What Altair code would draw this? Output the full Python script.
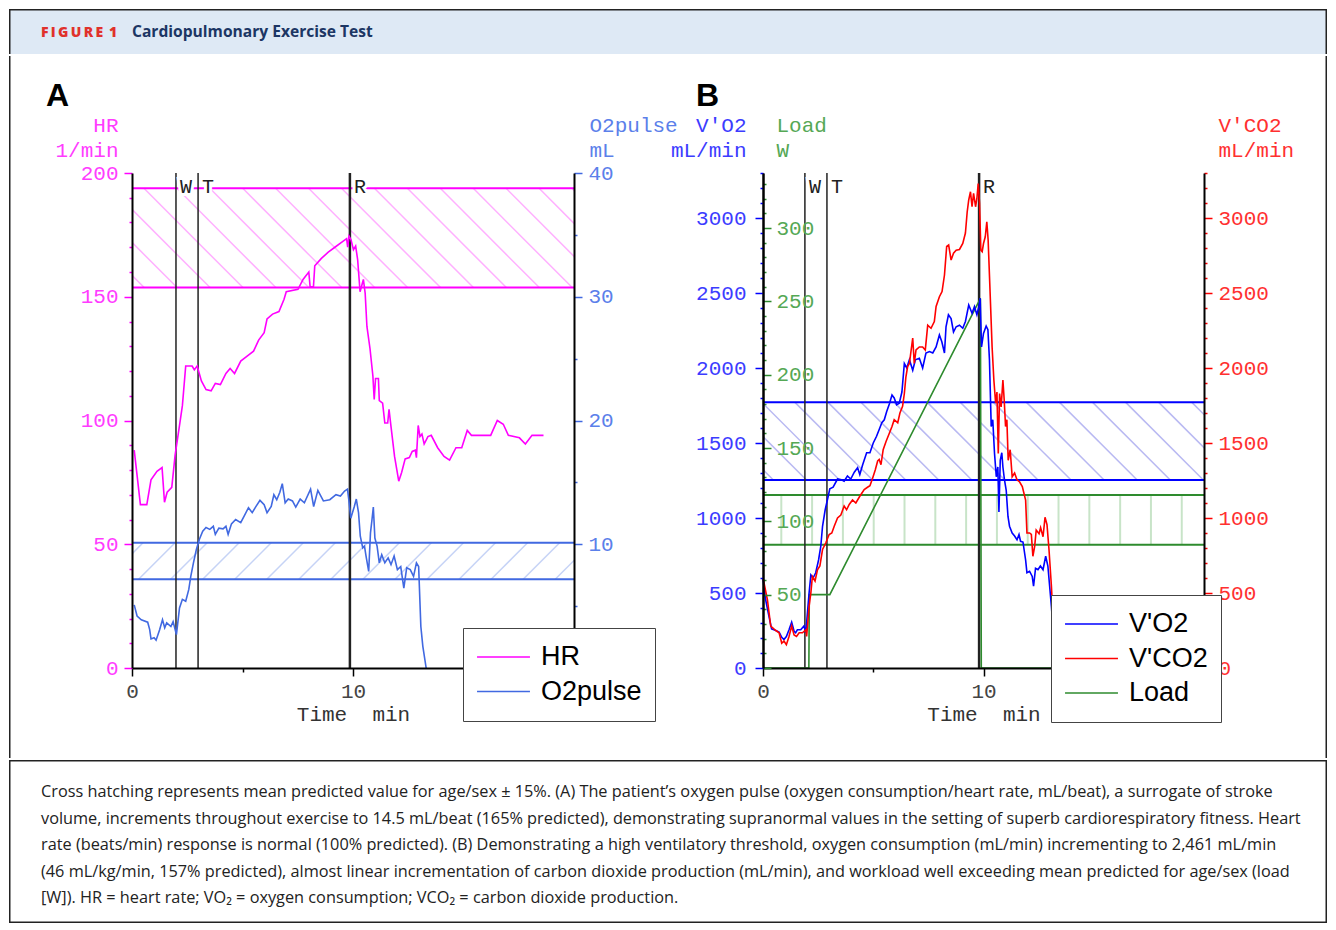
import altair as alt
import pandas as pd

# ---------------- data ----------------
HR_T = [0.10, 0.38, 0.67, 0.86, 1.13, 1.36, 1.47, 1.59, 1.80, 1.95,
        2.15, 2.28, 2.43, 2.72, 2.82, 2.95, 3.14, 3.35, 3.58, 3.77,
        4.00, 4.25, 4.44, 4.64, 4.92, 5.21, 5.50, 5.73, 5.98, 6.11,
        6.36, 6.65, 6.88, 6.98, 7.51, 7.74, 8.00, 8.06, 8.21, 8.27,
        8.57, 8.88, 9.18, 9.48, 9.71, 9.76, 9.82, 9.91, 10.02, 10.12,
        10.21, 10.32, 10.47, 10.55, 10.63, 10.77, 10.90, 10.96, 11.02, 11.15,
        11.19, 11.34, 11.44, 11.57, 11.63, 11.72, 11.88, 12.07, 12.20, 12.36,
        12.55, 12.68, 12.82, 12.87, 12.95, 13.03, 13.12, 13.22, 13.39, 13.54,
        13.83, 14.12, 14.37, 14.66, 14.92, 15.17, 15.36, 16.23, 16.53, 16.80,
        17.03, 17.53, 17.80, 18.10, 18.62]
HR_V = [88, 66, 66, 76, 79.5, 81, 67, 71, 73, 86,
        98, 106, 122, 122, 120.5, 122, 116, 112.5, 112, 115,
        114.5, 119, 121, 119, 124, 126, 128, 132.5, 135.5, 141,
        143, 144, 149, 152, 153, 157, 160, 154, 154, 162.5,
        165.5, 168, 170, 172, 173.5, 170, 174.5, 173, 169, 170.5,
        165, 152, 157, 151.5, 138, 129, 118, 108.5, 117, 117,
        108, 107, 99, 99, 104.5, 97.5, 85.5, 75.5, 79, 84.5,
        85, 87.5, 88, 85, 98, 93.5, 94.5, 90.5, 93.5, 94,
        89, 85.5, 84, 89, 89, 96, 94, 94, 100, 98.5,
        94, 93, 90.5, 94, 94]

O2_T = [0.10, 0.23, 0.42, 0.71, 0.80, 0.86, 1.00, 1.09, 1.25, 1.38,
        1.48, 1.57, 1.76, 1.86, 2.01, 2.15, 2.28, 2.43, 2.57, 2.66,
        2.78, 2.91, 3.05, 3.20, 3.35, 3.52, 3.68, 3.77, 3.93, 4.12,
        4.25, 4.35, 4.50, 4.69, 4.92, 5.08, 5.27, 5.44, 5.59, 5.79,
        5.98, 6.11, 6.30, 6.42, 6.55, 6.69, 6.80, 6.93, 7.07, 7.26,
        7.41, 7.61, 7.80, 8.08, 8.22, 8.41, 8.66, 8.95, 9.23, 9.43,
        9.62, 9.75, 9.81, 9.90, 10.06, 10.15, 10.25, 10.33, 10.44, 10.52,
        10.59, 10.71, 10.79, 10.86, 10.92, 10.99, 11.09, 11.19, 11.30, 11.44,
        11.59, 11.72, 11.86, 12.01, 12.16, 12.30, 12.43, 12.59, 12.74, 12.87,
        12.97, 13.07, 13.16, 13.31]
O2_V = [5.1, 4.2, 3.9, 3.7, 3.1, 2.35, 2.45, 2.25, 3.1, 3.9,
        3.25, 3.65, 3.35, 3.75, 2.7, 4.85, 5.55, 5.4, 6.35, 7.4,
        8.5, 9.55, 10.4, 11.05, 11.35, 11.2, 11.45, 10.8, 11.3, 11.25,
        11.45, 10.8, 11.65, 12.0, 11.75, 12.3, 12.95, 12.55, 13.0, 13.55,
        13.2, 12.55, 13.05, 14.0, 13.6, 14.2, 14.9, 13.35, 13.65, 13.5,
        13.0, 13.65, 13.35, 14.45, 13.05, 14.35, 13.5, 13.6, 14.0, 13.9,
        14.3, 14.45, 13.6, 12.1, 13.05, 13.65, 12.55, 10.65, 9.7, 9.85,
        9.05, 7.8, 10.9, 12.0, 13.0, 10.5, 9.85, 8.5, 9.15, 8.5,
        8.9, 8.35, 9.05, 7.95, 8.2, 6.45, 8.1, 7.95, 7.4, 8.5,
        8.2, 3.35, 1.75, 0]

VO2_T = [0.00, 0.12, 0.27, 0.39, 0.58, 0.73, 0.85, 0.95, 1.06, 1.18,
         1.30, 1.41, 1.48, 1.56, 1.71, 1.86, 1.94, 2.09, 2.17, 2.27,
         2.39, 2.52, 2.62, 2.70, 2.82, 2.92, 3.03, 3.18, 3.38, 3.56,
         3.68, 3.83, 3.98, 4.14, 4.29, 4.39, 4.52, 4.70, 4.85, 5.00,
         5.15, 5.27, 5.39, 5.50, 5.61, 5.73, 5.85, 5.95, 6.06, 6.18,
         6.30, 6.41, 6.52, 6.64, 6.79, 6.91, 7.09, 7.24, 7.39, 7.55,
         7.70, 7.85, 8.00, 8.11, 8.23, 8.30, 8.41, 8.53, 8.64, 8.76,
         8.91, 9.06, 9.18, 9.33, 9.48, 9.59, 9.70, 9.79, 9.85, 9.91,
         10.00, 10.12, 10.20, 10.27, 10.35, 10.42, 10.50, 10.58, 10.65, 10.70,
         10.76, 10.83, 10.88, 10.95, 11.03, 11.11, 11.18, 11.30, 11.41, 11.52,
         11.61, 11.68, 11.79, 11.91, 11.97, 12.09, 12.21, 12.27, 12.36, 12.47,
         12.58, 12.70, 12.82, 12.92, 13.08, 13.23, 13.30]
VO2_V = [590, 455, 345, 260, 250, 240, 205, 190, 210, 255,
         305, 245, 235, 255, 255, 280, 235, 500, 620, 600,
         635, 720, 810, 945, 1055, 1120, 1195, 1205, 1260, 1255,
         1245, 1280, 1260, 1305, 1335, 1290, 1355, 1435, 1435, 1500,
         1545, 1590, 1635, 1655, 1710, 1760, 1820, 1800, 1755, 1765,
         1840, 2030, 2000, 2055, 1985, 2055, 2065, 2000, 2100, 2110,
         2100, 2140, 2220, 2175, 2100, 2275, 2355, 2330, 2240, 2275,
         2285, 2265, 2310, 2420, 2365, 2410, 2355, 2410, 2465, 2140,
         2230, 2280, 2255, 2055, 1610, 1655, 1430, 1275, 1340, 1040,
         1385, 1435, 1340, 1255, 1185, 1010, 945, 900, 880, 855,
         890, 845, 840, 720, 635, 645, 610, 545, 665, 655,
         680, 655, 745, 680, 410, 100, 0]

VCO2_T = [0.00, 0.20, 0.35, 0.58, 0.73, 0.85, 0.95, 1.06, 1.18, 1.30,
          1.41, 1.52, 1.64, 1.79, 1.94, 1.98, 2.09, 2.17, 2.24, 2.36,
          2.47, 2.58, 2.70, 2.85, 3.00, 3.12, 3.23, 3.38, 3.53, 3.68,
          3.79, 3.91, 4.06, 4.21, 4.39, 4.59, 4.74, 4.85, 4.97, 5.09,
          5.20, 5.27, 5.35, 5.45, 5.58, 5.73, 5.85, 5.95, 6.11, 6.21,
          6.33, 6.41, 6.48, 6.56, 6.64, 6.71, 6.79, 6.86, 6.94, 7.09,
          7.24, 7.36, 7.47, 7.62, 7.77, 7.85, 8.00, 8.12, 8.23, 8.33,
          8.42, 8.53, 8.64, 8.76, 8.91, 9.06, 9.18, 9.26, 9.33, 9.41,
          9.48, 9.55, 9.64, 9.70, 9.76, 9.82, 9.88, 9.94, 10.00, 10.08,
          10.15, 10.21, 10.30, 10.39, 10.47, 10.55, 10.61, 10.67, 10.73, 10.80,
          10.88, 10.94, 11.00, 11.06, 11.12, 11.21, 11.30, 11.41, 11.52, 11.64,
          11.76, 11.91, 11.97, 12.09, 12.17, 12.24, 12.32, 12.39, 12.52, 12.59,
          12.70, 12.79, 12.88, 12.97, 13.08, 13.15, 13.30]
VCO2_V = [600, 455, 280, 250, 235, 165, 180, 155, 210, 280,
          220, 210, 235, 235, 255, 210, 410, 500, 610, 580,
          655, 680, 790, 835, 890, 900, 945, 1000, 1020, 1080,
          1055, 1090, 1120, 1100, 1145, 1190, 1205, 1215, 1265, 1320,
          1380, 1390, 1355, 1455, 1510, 1565, 1610, 1655, 1635, 1700,
          1745, 1830, 1940, 2010, 2030, 2110, 2200, 2030, 2120, 2140,
          2140, 2120, 2285, 2265, 2310, 2410, 2475, 2510, 2620, 2810,
          2820, 2720, 2765, 2785, 2790, 2830, 2900, 3040, 3120, 3175,
          3075, 3165, 3075, 3130, 3230, 3100, 2785, 2775, 2830, 2875,
          2975, 2855, 2500, 2140, 1920, 1765, 1840, 1430, 1830, 1740,
          1920, 1785, 1610, 1655, 1385, 1455, 1275, 1300, 1255, 1240,
          1210, 1120, 900, 900, 890, 745, 810, 920, 895, 935,
          875, 1005, 955, 790, 545, 345, 0]

LOAD_T = [0.0, 2.08, 2.10, 3.03, 9.86, 9.90, 13.30]
LOAD_V = [0, 0, 50, 50, 252, 0, 0]

MARKER_LABELS = ["W", "T", "R"]
MARKERS_A_T = [1.99, 2.99, 9.86]
MARKERS_B_T = [1.90, 2.90, 9.80]

HR_BAND = [153.7, 193.8]
O2_BAND = [7.17, 10.12]
VO2_BAND = [1253, 1771]
LOAD_BAND = [84, 118]

SERIES_A = ["HR", "O2pulse"]
SERIES_B = ["V'O2", "V'CO2", "Load"]

X_TICKS = [0, 5, 10, 15, 20]
HR_TICKS = list(range(0, 201, 10))
O2_TICKS = list(range(0, 41, 5))
VO2_TICKS = list(range(0, 3301, 100))
LOAD_TICKS = list(range(0, 331, 10))

HEADER_LABEL = "F\u2009I\u2009G\u2009U\u2009R\u2009E\u2009 1"
HEADER_TITLE = "Cardiopulmonary Exercise Test"
CAPTION_LINES = [
    "Cross hatching represents mean predicted value for age/sex \u00b1 15%. (A) The patient\u2019s oxygen pulse (oxygen consumption/heart rate, mL/beat), a surrogate of stroke",
    "volume, increments throughout exercise to 14.5 mL/beat (165% predicted), demonstrating supranormal values in the setting of superb cardiorespiratory fitness. Heart",
    "rate (beats/min) response is normal (100% predicted). (B) Demonstrating a high ventilatory threshold, oxygen consumption (mL/min) incrementing to 2,461 mL/min",
    "(46 mL/kg/min, 157% predicted), almost linear incrementation of carbon dioxide production (mL/min), and workload well exceeding mean predicted for age/sex (load",
    "[W]). HR = heart rate; VO\u2082 = oxygen consumption; VCO\u2082 = carbon dioxide production.",
]

# ---------------- styling ----------------
MONO = "Liberation Mono"
SANS = "Liberation Sans"
CAP_FONT = "Open Sans"
FRAME = "#222222"
HEADER_BG = "#dee9f5"
LEFT = 123            # distance from the frame to panel A's plot area
TOTAL_W = 1318
HEADER_H = 45
CAPTION_H = 163
MID_TOP, MID_BOTTOM = -117, 585
PW_A, PW_B, PH = 442, 441, 495
GAP = 189
T_DOMAIN = [0, 20]
HR_DOM = [0, 200]
O2_DOM = [0, 40]
VO2_DOM = [0, 3300]
LOAD_DOM = [0, 337.5]

MAG = "#ff00ff"
RB = "#4169e1"
BLUE = "#0000ff"
RED = "#ff0000"
GREEN = "#2e8b2e"

one = pd.DataFrame({"k": [0]})


def series_df(ts, vs, name):
    return pd.DataFrame({"t": ts, "v": vs, "series": name})


def xs(axis=None):
    return alt.X("t:Q", scale=alt.Scale(domain=T_DOMAIN, nice=False, zero=False), axis=axis)


def ys(domain, axis=None):
    return alt.Y("v:Q", scale=alt.Scale(domain=domain, nice=False, zero=False), axis=axis)


def tick_size(major, big=8, small=3):
    return {"condition": {"test": f"datum.value % {major} === 0", "value": big}, "value": small}


def y_axis(orient, values, major, tick_color, text_color, title, title_align, title_x,
           label_padding, offset=0, hide_zero=False):
    cond = f"datum.value % {major} === 0" + (" && datum.value > 0" if hide_zero else "")
    kw = dict(orient=orient, values=values, format="d", labelExpr=f"{cond} ? datum.label : ''",
              tickSize=tick_size(major), tickColor=tick_color, tickWidth=1.5,
              domainColor="black", domainWidth=2, labelColor=text_color, labelFont=MONO,
              labelFontSize=21, labelPadding=label_padding, labelFlush=False, labelOverlap=False,
              grid=False, title=title, titleAngle=0, titleAlign=title_align,
              titleBaseline="alphabetic", titleX=title_x, titleY=-42, titleFont=MONO,
              titleFontSize=21, titleFontWeight="normal", titleColor=text_color,
              titleLineHeight=25, zindex=1)
    if offset:
        kw["offset"] = offset
    return alt.Axis(**kw)


def x_axis(width):
    return alt.Axis(orient="bottom", values=X_TICKS, format="d",
                    labelExpr="datum.value === 0 || datum.value === 10 ? datum.label : ''",
                    tickSize=tick_size(10, 8, 4), tickColor="black", tickWidth=1.5,
                    domainColor="black", domainWidth=2, labelColor="#444", labelFont=MONO,
                    labelFontSize=21, labelPadding=4, labelFlush=False, labelOverlap=False,
                    grid=False, title="Time\u00a0\u00a0min", titleFont=MONO, titleFontSize=21,
                    titleFontWeight="normal", titleColor="#333", titleAlign="center",
                    titleBaseline="alphabetic", titleX=width / 2, titleY=52, zindex=1)


def legend(x, y):
    return alt.Legend(title=None, orient="none", legendX=x, legendY=y, symbolType="stroke",
                      symbolSize=2800, symbolStrokeWidth=1.5, labelFont=SANS, labelFontSize=27,
                      labelColor="black", labelLimit=400, fillColor="white", strokeColor="#444",
                      padding=13, rowPadding=2.5, labelOffset=10, clipHeight=32, zindex=5)


def hatch(lo, hi, first, step, run, domain, color, width=1.5):
    rows = []
    k = -int((abs(run) + first) / step) - 1
    while True:
        tt = first + k * step
        if tt - abs(run) > T_DOMAIN[1]:
            break
        rows.append({"t": tt, "t2": tt + run, "v": hi, "v2": lo})
        k += 1
    return alt.Chart(pd.DataFrame(rows)).mark_rule(color=color, strokeWidth=width, clip=True).encode(
        x=xs(), x2="t2:Q", y=ys(domain), y2="v2:Q")


def band_edges(band, domain, color, width=2):
    return alt.Chart(pd.DataFrame({"v": band})).mark_rule(color=color, strokeWidth=width).encode(
        y=ys(domain))


def markers(ts):
    df = pd.DataFrame({"t": ts, "label": MARKER_LABELS, "w": [1.5, 1.5, 2.5]})
    lines = alt.Chart(df).mark_rule(color="#222").encode(
        x=xs(), strokeWidth=alt.StrokeWidth("w:Q", scale=None))
    halo = alt.Chart(df).mark_text(font=MONO, fontSize=20, align="left", baseline="alphabetic",
                                   dx=4, fill="white", stroke="white", strokeWidth=6).encode(
        x=xs(), y=alt.value(20), text="label:N")
    txt = alt.Chart(df).mark_text(font=MONO, fontSize=20, align="left", baseline="alphabetic",
                                  dx=4, color="#222").encode(
        x=xs(), y=alt.value(20), text="label:N")
    return [lines, halo, txt]


def vrule(x, y0, y1):
    return alt.Chart(one).mark_rule(color=FRAME, strokeWidth=1.5).encode(
        x=alt.value(x), y=alt.value(y0), y2=alt.value(y1))


def hrule(y, x0, x1):
    return alt.Chart(one).mark_rule(color=FRAME, strokeWidth=1.5).encode(
        y=alt.value(y), x=alt.value(x0), x2=alt.value(x1))


def panel_letter(letter, x):
    return alt.Chart(one).mark_text(text=letter, font=SANS, fontSize=32, fontWeight="bold",
                                    align="left", baseline="alphabetic", color="black").encode(
        x=alt.value(x), y=alt.value(-67))


# ---------------- panel A ----------------
color_a = alt.Color("series:N", scale=alt.Scale(domain=SERIES_A, range=[MAG, RB]),
                    legend=legend(331, 455))

hr_line = alt.Chart(series_df(HR_T, HR_V, "HR")).mark_line(strokeWidth=1.6).encode(
    x=xs(x_axis(PW_A)),
    y=ys(HR_DOM, y_axis("left", HR_TICKS, 50, MAG, "#ff3cff", ["HR", "1/min"], "right", -14, 6)),
    color=color_a)
o2_line = alt.Chart(series_df(O2_T, O2_V, "O2pulse")).mark_line(strokeWidth=1.6).encode(
    x=xs(),
    y=ys(O2_DOM, y_axis("right", O2_TICKS, 10, RB, "#5b80ea", ["O2pulse", "mL"], "left", 15, 6,
                        hide_zero=True)),
    color=color_a)

panel_a = alt.layer(
    hatch(HR_BAND[0], HR_BAND[1], 0.54, 1.49, 4.48, HR_DOM, "#ffb0ff"),
    hatch(O2_BAND[0], O2_BAND[1], 1.95, 1.45, -1.65, O2_DOM, "#c6d3f6"),
    band_edges(HR_BAND, HR_DOM, MAG),
    band_edges(O2_BAND, O2_DOM, RB),
    *markers(MARKERS_A_T),
    o2_line,
    hr_line,
    vrule(-LEFT + 0.75, MID_TOP, MID_BOTTOM),
    panel_letter("A", -86),
).resolve_scale(x="independent", y="independent").properties(width=PW_A, height=PH)

# ---------------- panel B ----------------
color_b = alt.Color("series:N", scale=alt.Scale(domain=SERIES_B, range=[BLUE, RED, GREEN]),
                    legend=legend(288, 422))

load_line = alt.Chart(series_df(LOAD_T, LOAD_V, "Load")).mark_line(strokeWidth=1.6).encode(
    x=xs(),
    y=ys(LOAD_DOM, y_axis("right", LOAD_TICKS, 50, GREEN, "#55a855", ["Load", "W"], "left", 13, 5,
                          offset=-PW_B, hide_zero=True)),
    color=color_b)
vo2_line = alt.Chart(series_df(VO2_T, VO2_V, "V'O2")).mark_line(strokeWidth=1.6).encode(
    x=xs(x_axis(PW_B)),
    y=ys(VO2_DOM, y_axis("left", VO2_TICKS, 500, BLUE, "#3c3cff", ["V'O2", "mL/min"], "right", -17, 9)),
    color=color_b)
vco2_line = alt.Chart(series_df(VCO2_T, VCO2_V, "V'CO2")).mark_line(strokeWidth=1.6).encode(
    x=xs(),
    y=ys(VO2_DOM, y_axis("right", VO2_TICKS, 500, RED, "#ff3030", ["V'CO2", "mL/min"], "left", 14, 6)),
    color=color_b)

panel_b = alt.layer(
    hatch(VO2_BAND[0], VO2_BAND[1], 1.45, 1.5, 3.52, VO2_DOM, "#b9b9f2"),
    hatch(LOAD_BAND[0], LOAD_BAND[1], 0.83, 1.397, 0.0, LOAD_DOM, "#c8e4c8", 2),
    band_edges(VO2_BAND, VO2_DOM, BLUE),
    band_edges(LOAD_BAND, LOAD_DOM, GREEN),
    *markers(MARKERS_B_T),
    load_line,
    vo2_line,
    vco2_line,
    vrule(TOTAL_W - LEFT - PW_A - GAP - 0.75, MID_TOP, MID_BOTTOM),
    panel_letter("B", -67),
).resolve_scale(x="independent", y="independent").properties(width=PW_B, height=PH)

middle = alt.hconcat(panel_a, panel_b, spacing=GAP, bounds="flush").resolve_scale(color="independent")

# ---------------- header & caption (origin aligned with panel A plot) ----------------
X0, X1 = -LEFT, TOTAL_W - LEFT
header = alt.layer(
    alt.Chart(one).mark_rect(color=HEADER_BG).encode(
        x=alt.value(X0), x2=alt.value(X1), y=alt.value(0), y2=alt.value(HEADER_H)),
    hrule(0.75, X0, X1),
    vrule(X0 + 0.75, 0, HEADER_H),
    vrule(X1 - 0.75, 0, HEADER_H),
    alt.Chart(one).mark_text(text=HEADER_LABEL, font=CAP_FONT, fontSize=14, fontWeight=800,
                             color="#e0312b", align="left", baseline="alphabetic").encode(
        x=alt.value(X0 + 32), y=alt.value(28)),
    alt.Chart(one).mark_text(text=HEADER_TITLE, font=CAP_FONT, fontSize=15.6, fontWeight="bold",
                             color="#1c3664", align="left", baseline="alphabetic").encode(
        x=alt.value(X0 + 123), y=alt.value(28)),
).properties(width=X1, height=HEADER_H)

caption = alt.layer(
    hrule(0.75, X0, X1),
    hrule(CAPTION_H - 0.75, X0, X1),
    vrule(X0 + 0.75, 0, CAPTION_H),
    vrule(X1 - 0.75, 0, CAPTION_H),
    alt.Chart(one).mark_text(text=CAPTION_LINES, font=CAP_FONT, fontSize=16.3, lineHeight=26.5,
                             align="left", baseline="alphabetic", color="#222").encode(
        x=alt.value(X0 + 32), y=alt.value(37)),
).properties(width=X1, height=CAPTION_H)

chart = alt.vconcat(header, middle, caption, spacing=0).properties(
    padding=0, background="white").configure_view(strokeWidth=0)

chart.save("out.html", embed_options={"renderer": "svg", "actions": False})
